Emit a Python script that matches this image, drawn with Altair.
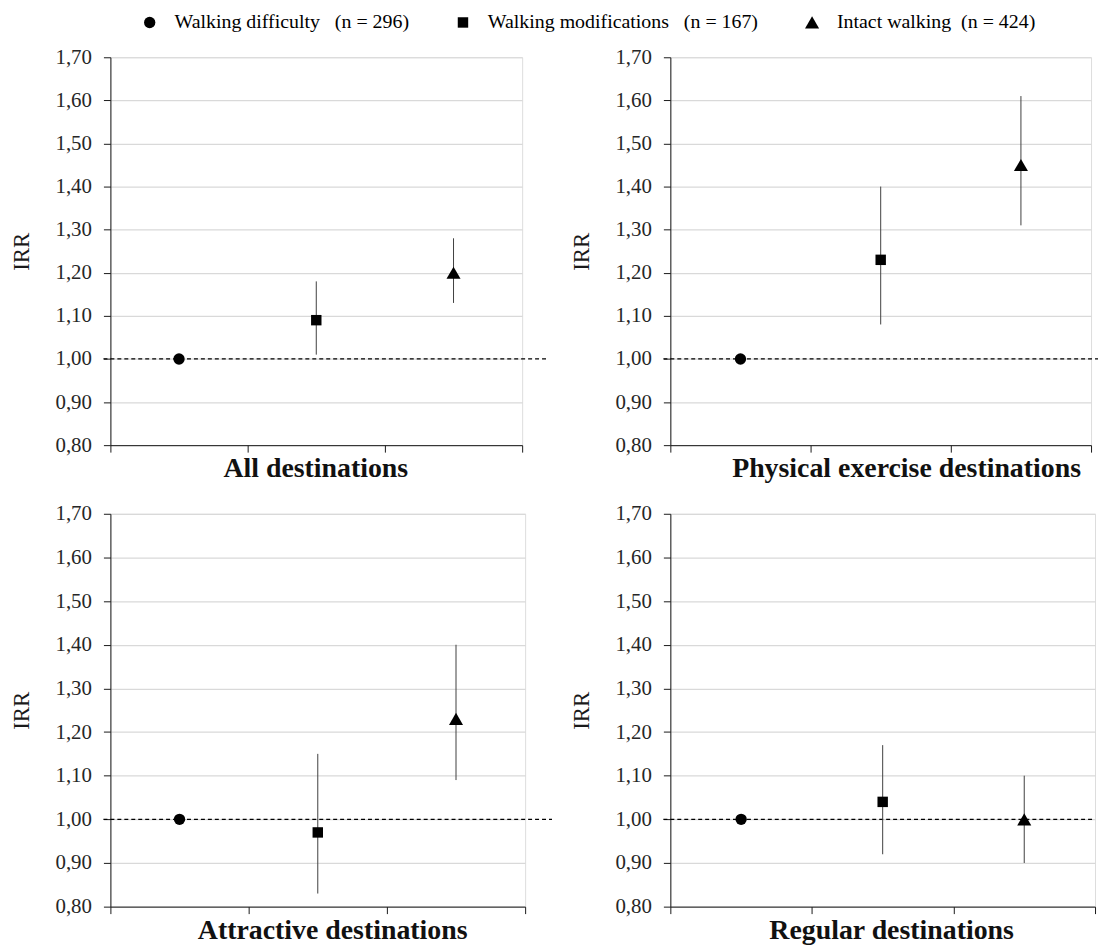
import altair as alt
import pandas as pd

# ---------------- data ----------------
PANELS = ["All destinations", "Physical exercise destinations",
          "Attractive destinations", "Regular destinations"]
NB = "\u00a0"
GROUPS = [f"Walking difficulty{NB*3}(n = 296)",
          f"Walking modifications{NB*3}(n = 167)",
          f"Intact walking{NB*2}(n = 424)"]
SHAPES = ["circle", "square", "triangle-up"]
SIZES = [130, 110, 200]

IRR = {
    "All destinations":               [1.00, 1.09, 1.20],
    "Physical exercise destinations": [1.00, 1.23, 1.45],
    "Attractive destinations":        [1.00, 0.97, 1.23],
    "Regular destinations":           [1.00, 1.04, 1.00],
}
LOWER = {
    "All destinations":               [None, 1.01, 1.13],
    "Physical exercise destinations": [None, 1.08, 1.31],
    "Attractive destinations":        [None, 0.83, 1.09],
    "Regular destinations":           [None, 0.92, 0.90],
}
UPPER = {
    "All destinations":               [None, 1.18, 1.28],
    "Physical exercise destinations": [None, 1.40, 1.61],
    "Attractive destinations":        [None, 1.15, 1.40],
    "Regular destinations":           [None, 1.17, 1.10],
}
REF_LINE = [1.00]
Y_TICKS = [0.8, 0.9, 1.0, 1.1, 1.2, 1.3, 1.4, 1.5, 1.6, 1.7]
Y_DOMAIN = [0.8, 1.7]

SERIF = "Liberation Serif"


def legend():
    return alt.Legend(title=None, orient="none", legendX=29.5, legendY=-45,
                      direction="horizontal", labelFont=SERIF, labelFontSize=20,
                      labelColor="black", labelOffset=15, columnPadding=44,
                      symbolFillColor="black", symbolStrokeColor="black",
                      symbolStrokeWidth=0, labelLimit=600, padding=0)


def make_panel(name, w, h, title_x, dash_right, anchor=False):
    df = pd.DataFrame({"group": GROUPS, "irr": IRR[name],
                       "lo": LOWER[name], "hi": UPPER[name]})
    yscale = alt.Scale(domain=Y_DOMAIN, nice=False, zero=False)
    yaxis = alt.Axis(values=Y_TICKS,
                     labelExpr="replace(format(datum.value, '.2f'), '.', ',')",
                     title="IRR", grid=True, gridColor="#d9d9d9", gridWidth=1.2,
                     domainColor="#1a1a1a", domainWidth=1,
                     tickColor="#1a1a1a", tickSize=7, tickWidth=1,
                     labelPadding=12, labelFont=SERIF, labelFontSize=21,
                     labelColor="#262626",
                     titleFont=SERIF, titleFontSize=23, titleFontWeight="normal",
                     titleColor="#1a1a1a", titleX=-82, titleY=h / 2,
                     titleBaseline="alphabetic", titleAngle=270, titleAlign="center")
    xaxis = alt.Axis(title=name, labels=False, tickBand="extent", grid=False,
                     domainColor="#1a1a1a", domainWidth=1,
                     tickColor="#1a1a1a", tickSize=7, tickWidth=1,
                     titleX=title_x, titleY=32, titleBaseline="alphabetic",
                     titleAlign="center", titleFont=SERIF, titleFontSize=28,
                     titleFontWeight="bold", titleColor="#111111")
    xscale = alt.Scale(type="band", domain=GROUPS, paddingInner=0, paddingOuter=0)

    def X():
        return alt.X("group:N", sort=GROUPS, bandPosition=0.5, scale=xscale, axis=xaxis)

    dash = alt.Chart(pd.DataFrame({"irr": REF_LINE})).mark_rule(
        color="black", strokeWidth=1.2, strokeDash=[4, 3]
    ).encode(
        x=alt.value(-7), x2=alt.value(w + dash_right),
        y=alt.Y("irr:Q", scale=yscale, axis=yaxis),
    )

    bars = alt.Chart(df).transform_filter("isValid(datum.lo)").mark_rule(
        color="#404040", strokeWidth=1
    ).encode(
        x=X(),
        y=alt.Y("lo:Q", scale=yscale, axis=yaxis),
        y2="hi:Q",
    )

    pts = alt.Chart(df).mark_point(filled=True, color="black", opacity=1).encode(
        x=X(),
        y=alt.Y("irr:Q", scale=yscale, axis=yaxis),
        shape=alt.Shape("group:O", sort=GROUPS,
                        scale=alt.Scale(domain=GROUPS, range=SHAPES),
                        legend=legend()),
        size=alt.Size("group:O", sort=GROUPS,
                      scale=alt.Scale(type="ordinal", domain=GROUPS, range=SIZES),
                      legend=legend()),
    )

    layers = [dash, bars, pts]
    if anchor:
        mark = alt.Chart(pd.DataFrame({"irr": REF_LINE})).mark_rule(
            strokeWidth=0, opacity=0
        ).encode(x=alt.value(-110), x2=alt.value(-100),
                 y=alt.value(-54), y2=alt.value(-54))
        layers.append(mark)
    return alt.layer(*layers).properties(width=w, height=h)


p1 = make_panel(PANELS[0], 414, 390, 206, 27, anchor=True)
p2 = make_panel(PANELS[1], 423, 390, 237, 7)
p3 = make_panel(PANELS[2], 417, 395, 223, 27)
p4 = make_panel(PANELS[3], 427, 395, 222, 0)

chart = alt.concat(
    p1, p2, p3, p4, columns=2,
    spacing={"row": 69, "column": 146},
    bounds="flush", align="none",
).properties(padding=0).configure_view(stroke=None).configure(font=SERIF)

chart.save("out.html", embed_options={"renderer": "svg", "actions": False})
